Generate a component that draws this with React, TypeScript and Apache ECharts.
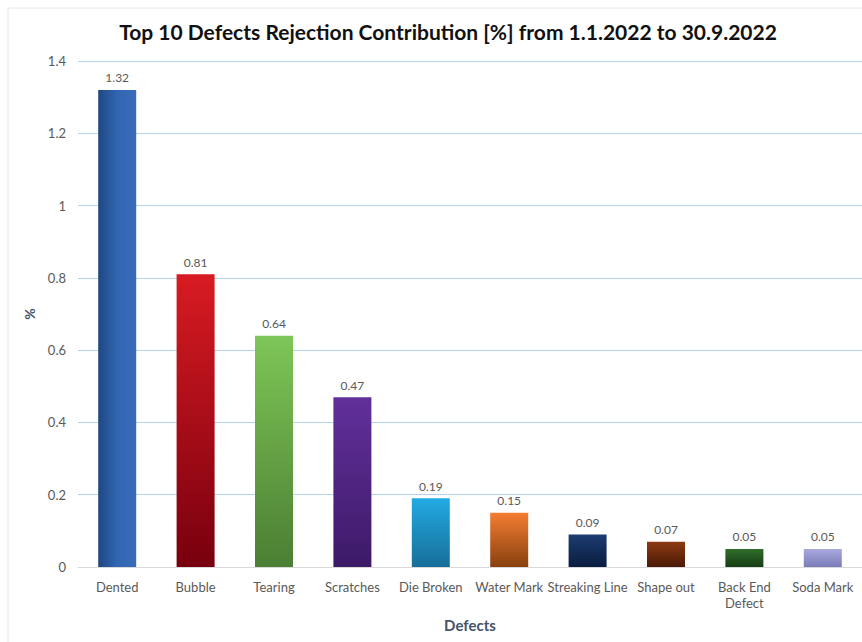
import React, { useEffect, useRef } from "react";
import * as echarts from "echarts";

const categories = ["Dented", "Bubble", "Tearing", "Scratches", "Die Broken", "Water Mark", "Streaking Line", "Shape out", "Back End\nDefect", "Soda Mark"];
const values = [1.32, 0.81, 0.64, 0.47, 0.19, 0.15, 0.09, 0.07, 0.05, 0.05];
const topColors = ["#3468b8", "#d81b22", "#7ec657", "#61309a", "#22aae2", "#f47d31", "#1c3c70", "#8c3a12", "#2f6e2b", "#aaaade"];
const bottomColors = ["#1e4680", "#78000e", "#4b7e33", "#3d1a68", "#176e98", "#88400f", "#0a1d40", "#4a1905", "#163d14", "#7b7bb8"];
const yTicks = { min: 0, max: 1.4, interval: 0.2 };

const FONT = "Lato";

export default function App() {
  const ref = useRef<HTMLDivElement>(null);
  useEffect(() => {
    const chart = echarts.init(ref.current!, undefined, { renderer: "svg" });
    const data = values.map((v, i) => ({
      value: v,
      itemStyle: {
        color: i === 0
          ? new echarts.graphic.LinearGradient(0, 0, 1, 0, [
              { offset: 0, color: "#1f4782" },
              { offset: 0.5, color: "#3066b2" },
              { offset: 1, color: "#3a6cb8" },
            ])
          : new echarts.graphic.LinearGradient(0, 0, 0, 1, [
              { offset: 0, color: topColors[i] },
              { offset: 1, color: bottomColors[i] },
            ]),
      },
    }));
    chart.setOption({
      animation: false,
      backgroundColor: "#ffffff",
      title: {
        text: "Top 10 Defects Rejection Contribution [%] from 1.1.2022 to 30.9.2022",
        left: 443,
        textAlign: "center",
        top: 16,
        textStyle: { fontFamily: FONT, fontWeight: "bold", fontSize: 21, color: "#111111" },
      },
      graphic: [
        { type: "line", shape: { x1: 8, y1: 8, x2: 862, y2: 8 }, style: { stroke: "#e6e6e6", lineWidth: 1 } },
        { type: "line", shape: { x1: 8, y1: 8, x2: 8, y2: 642 }, style: { stroke: "#e6e6e6", lineWidth: 1 } },
      ],
      grid: { left: 78, right: 0, top: 61, bottom: 75, containLabel: false },
      xAxis: {
        type: "category",
        data: categories,
        name: "Defects",
        nameLocation: "middle",
        nameGap: 50,
        nameTextStyle: { fontFamily: FONT, fontWeight: "bold", fontSize: 15, color: "#44546a" },
        axisLine: { lineStyle: { color: "#d9d9d9" } },
        axisTick: { show: false },
        axisLabel: { fontFamily: FONT, fontSize: 13, color: "#595959", margin: 12, interval: 0, lineHeight: 16 },
      },
      yAxis: {
        type: "value",
        ...yTicks,
        name: "%",
        nameLocation: "middle",
        nameGap: 38,
        nameRotate: 90,
        nameTextStyle: { fontFamily: FONT, fontWeight: "bold", fontSize: 14, color: "#44546a" },
        axisLine: { show: false },
        axisTick: { show: false },
        splitLine: { lineStyle: { color: "#b4d2ee", width: 1 } },
        axisLabel: { fontFamily: FONT, fontSize: 13, color: "#595959", margin: 12 },
      },
      series: [
        {
          type: "bar",
          data,
          barWidth: 38,
          label: {
            show: true,
            position: "top",
            distance: 6,
            fontFamily: FONT,
            fontSize: 12,
            color: "#595959",
            formatter: (p: any) => p.value.toFixed(2),
          },
        },
      ],
    });
    return () => chart.dispose();
  }, []);
  return <div ref={ref} style={{ position: "absolute", left: 0, top: 0, width: 862, height: 642 }} />;
}
